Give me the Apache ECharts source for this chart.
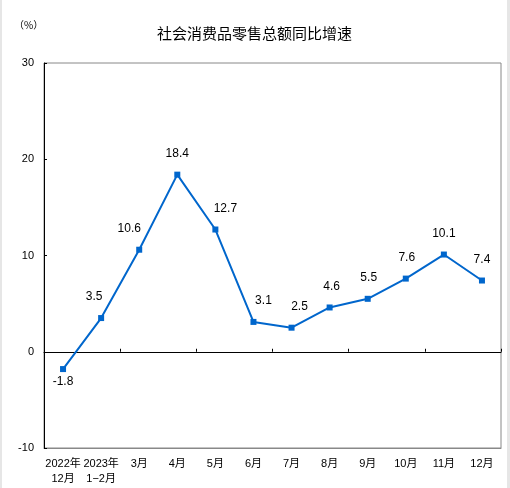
<!DOCTYPE html>
<html>
<head>
<meta charset="utf-8">
<script src="https://cdn.jsdelivr.net/npm/echarts@6/dist/echarts.min.js"></script>
<style>
html, body { margin: 0; padding: 0; background: #e6e6e6; }
#chart { position: absolute; left: 2px; top: 0; width: 505px; height: 488px; background: #fff; }
</style>
</head>
<body>
<div id="chart"></div>
<script>
// 数据
const categories = ['2022年\n12月', '2023年\n1−2月', '3月', '4月', '5月', '6月', '7月', '8月', '9月', '10月', '11月', '12月'];
const growth = [-1.8, 3.5, 10.6, 18.4, 12.7, 3.1, 2.5, 4.6, 5.5, 7.6, 10.1, 7.4];
const yTicks = [-10, 0, 10, 20, 30];
// 标签偏移 (样式)
const labelOffsets = [[0, -8], [-7, 0], [-10, 0], [0, 0], [10, 0], [10, 0], [8, 0], [2, 0], [1, 0], [1, 0], [0, 0], [0, 0]];

const font = '"Liberation Sans", "Noto Sans CJK SC", sans-serif';

const chart = echarts.init(document.getElementById('chart'));
const option = {
  animation: false,
  title: {
    text: '社会消费品零售总额同比增速',
    left: 'center',
    top: 21,
    textStyle: { fontSize: 15, fontWeight: 'normal', color: '#000', fontFamily: '"Noto Sans CJK SC", sans-serif' }
  },
  graphic: [{
    type: 'text',
    left: 12,
    top: 20,
    style: { text: '（%）', fontSize: 10, fill: '#000', fontFamily: '"Noto Sans CJK SC", sans-serif' }
  }],
  grid: { left: 42, right: 6, top: 63, bottom: 40, show: true, borderColor: '#888', borderWidth: 1 },
  xAxis: [
    {
      type: 'category',
      data: categories,
      position: 'bottom',
      axisLine: { onZero: false, lineStyle: { color: '#888', width: 1 } },
      axisTick: { show: false },
      axisLabel: { color: '#000', fontSize: 11, fontFamily: font, lineHeight: 15, margin: 8, interval: 0 }
    },
    {
      type: 'category',
      data: categories,
      position: 'bottom',
      axisLine: { onZero: true, lineStyle: { color: '#000', width: 1 } },
      axisTick: { show: true, inside: true, length: 3, lineStyle: { color: '#000' } },
      axisLabel: { show: false }
    }
  ],
  yAxis: {
    type: 'value',
    min: yTicks[0],
    max: yTicks[yTicks.length - 1],
    interval: 10,
    axisLine: { show: true, lineStyle: { color: '#000', width: 1 } },
    axisTick: { show: true, inside: true, length: 3, lineStyle: { color: '#000' } },
    axisLabel: { color: '#000', fontSize: 11, fontFamily: font, margin: 10 },
    splitLine: { show: false }
  },
  series: [{
    type: 'line',
    data: growth.map(function (v, i) {
      return {
        value: v,
        label: {
          position: v < 0 ? 'bottom' : 'top',
          offset: labelOffsets[i]
        }
      };
    }),
    symbol: 'rect',
    symbolSize: 6,
    lineStyle: { color: '#0066cc', width: 2 },
    itemStyle: { color: '#0066cc' },
    label: {
      show: true,
      distance: 12,
      color: '#000',
      fontSize: 12,
      fontFamily: font
    }
  }]
};
chart.setOption(option);
</script>
</body>
</html>
